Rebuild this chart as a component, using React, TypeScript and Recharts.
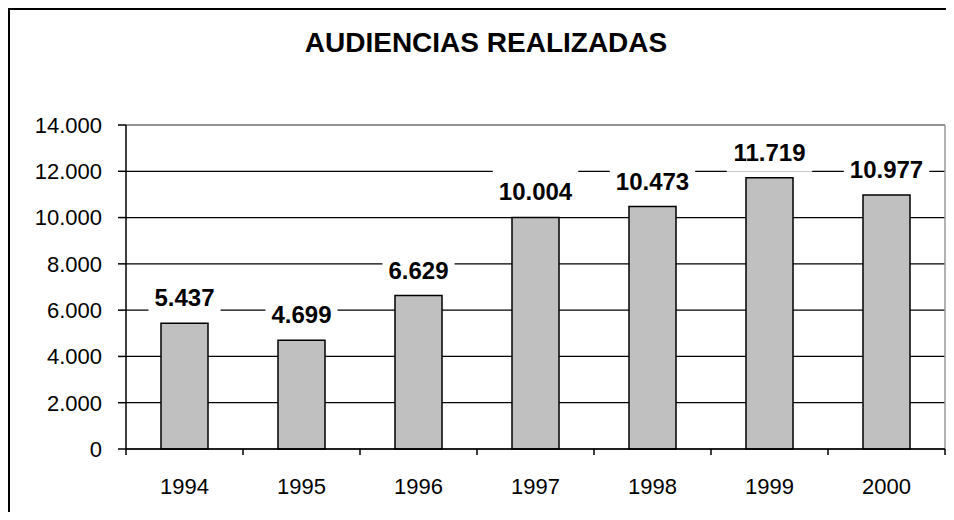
import React from 'react';
import { BarChart, Bar, XAxis, YAxis, CartesianGrid, LabelList, ReferenceLine } from 'recharts';

const years = ['1994', '1995', '1996', '1997', '1998', '1999', '2000'];
const audiencias = [5437, 4699, 6629, 10004, 10473, 11719, 10977];
const yTicks = [0, 2000, 4000, 6000, 8000, 10000, 12000, 14000];

const data = years.map((year, i) => ({ year, value: audiencias[i] }));

const FONT = '"Liberation Sans", Arial, sans-serif';
const CHART_W = 936;
const CHART_H = 502;
const Y_W = 116;
const X_H = 63;
const MARGIN = { top: 115, right: 1, left: 0, bottom: 0 };
const band = (CHART_W - MARGIN.right - Y_W) / years.length;

// miles con punto: 10004 -> 10.004
const fmt = (v: number) => String(v).replace(/\B(?=(\d{3})+(?!\d))/g, '.');

const YearTick = (props: any) => {
  const { x, y, payload, index } = props;
  const half = band / 2;
  return (
    <g>
      <line x1={x + half} x2={x + half} y1={y} y2={y + 6} stroke="#000" strokeWidth={1.5} />
      {index === 0 && <line x1={x - half} x2={x - half} y1={y} y2={y + 6} stroke="#000" strokeWidth={1.5} />}
      <text x={x} y={y + 45} textAnchor="middle" fontSize={22} fontFamily={FONT} fill="#000">
        {payload.value}
      </text>
    </g>
  );
};

const ValueLabel = (props: any) => {
  const { x, y, width, value } = props;
  const label = fmt(value);
  const cx = x + width / 2;
  const cy = y - 26;
  const textW = label.split('').reduce((s, c) => s + (c === '.' ? 6.7 : 13.35), 0);
  return (
    <g>
      <rect x={cx - textW / 2 - 6} y={cy - 24} width={textW + 12} height={44} fill="#fff" />
      <text x={cx} y={cy + 9} textAnchor="middle" fontSize={24} fontWeight="bold" fontFamily={FONT} fill="#000">
        {label}
      </text>
    </g>
  );
};

export default function App() {
  return (
    <div
      style={{
        position: 'relative',
        width: CHART_W,
        height: CHART_H,
        borderLeft: '2px solid #000',
        borderTop: '2px solid #000',
        fontFamily: FONT,
        background: '#fff',
      }}
    >
      <div
        style={{
          position: 'absolute',
          left: 476,
          top: 19,
          transform: 'translateX(-50%)',
          whiteSpace: 'nowrap',
          fontSize: 28,
          lineHeight: '28px',
          fontWeight: 'bold',
          color: '#000',
        }}
      >
        AUDIENCIAS REALIZADAS
      </div>
      <BarChart width={CHART_W} height={CHART_H} data={data} margin={MARGIN}>
        <CartesianGrid vertical={false} stroke="#000" strokeWidth={1.2} />
        <XAxis
          dataKey="year"
          height={X_H}
          axisLine={{ stroke: '#000', strokeWidth: 1.5 }}
          tickLine={false}
          tickSize={0}
          tickMargin={0}
          tick={<YearTick />}
          interval={0}
        />
        <YAxis
          width={Y_W}
          domain={[0, 14000]}
          ticks={yTicks}
          tickFormatter={fmt}
          axisLine={{ stroke: '#000', strokeWidth: 1.5 }}
          tickLine={{ stroke: '#000', strokeWidth: 1.5 }}
          tickSize={8}
          tickMargin={16}
          tick={{ fill: '#000', fontSize: 22, fontFamily: FONT }}
        />
        <ReferenceLine y={14000} stroke="#999" strokeWidth={1.5} />
        <ReferenceLine x="2000" position="end" stroke="#999" strokeWidth={1.5} />
        <Bar dataKey="value" fill="#C0C0C0" stroke="#000" strokeWidth={1.5} barSize={47} isAnimationActive={false}>
          <LabelList dataKey="value" content={<ValueLabel />} />
        </Bar>
      </BarChart>
    </div>
  );
}
